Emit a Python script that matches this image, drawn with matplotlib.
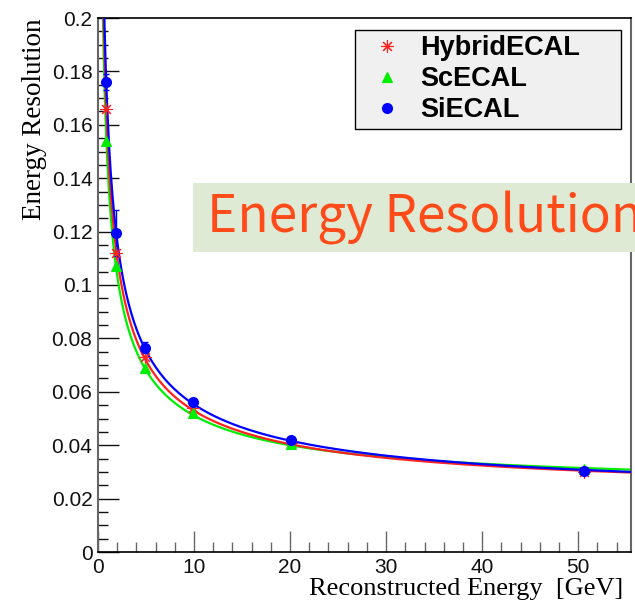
import numpy as np
import matplotlib
matplotlib.use("Agg")
import matplotlib.pyplot as plt
from matplotlib.patches import Rectangle
from matplotlib.ticker import MultipleLocator

energy = [0.83, 1.9, 4.9, 9.9, 20.1, 50.6]
hybrid_res = [0.166, 0.112, 0.073, 0.054, 0.041, 0.030]
sc_res = [0.154, 0.107, 0.069, 0.052, 0.0405, 0.031]
si_res = [0.176, 0.1195, 0.0765, 0.056, 0.042, 0.0305]
si_err = [0.003, 0.0085, 0.002, 0.001, 0.0005, 0.0005]

labels = ["HybridECAL", "ScECAL", "SiECAL"]

plt.rcParams["font.family"] = ["Liberation Sans", "DejaVu Sans"]

fig = plt.figure(figsize=(6.35, 6.01), dpi=100)
ax = fig.add_axes([98 / 635, (601 - 552) / 601, (631 - 98) / 635, (552 - 18) / 601])


def fit_curve(e, r):
    # sigma/E = sqrt(a^2/E + b^2), fitted in r^2 vs 1/E
    e = np.asarray(e)
    r = np.asarray(r)
    coef = np.polyfit(1.0 / e, r ** 2, 1, w=1.0 / r ** 2)
    xs = np.linspace(0.5, 56, 600)
    ys = np.sqrt(np.clip(coef[0] / xs + coef[1], 0, None))
    return xs, ys


series = [
    (hybrid_res, "#ff2020", (8, 2, 0), 9, None, labels[0]),
    (sc_res, "#00ee00", "^", 7, None, labels[1]),
    (si_res, "blue", "o", 8, si_err, labels[2]),
]

# fit curves: green under red under blue
for i, (res, col, mk, ms, err, lab) in enumerate([series[1], series[0], series[2]]):
    xs, ys = fit_curve(energy, res)
    ax.plot(xs, ys, color=col, lw=1.6, zorder=2 + i)

handles = []
for i, (res, col, mk, ms, err, lab) in enumerate(series):
    ax.errorbar(energy, res, yerr=err, fmt="none", ecolor=col, elinewidth=1,
                capsize=2, zorder=6)
    p, = ax.plot(energy, res, ls="none", marker=mk, color=col, ms=ms,
                 mew=0.8 if mk != "o" else 0, zorder=7 + i, label=lab)
    handles.append(p)

ax.set_xlim(0, 55.5)
ax.set_ylim(0, 0.2)
ax.xaxis.set_major_locator(MultipleLocator(10))
ax.xaxis.set_minor_locator(MultipleLocator(2))
ax.yaxis.set_major_locator(MultipleLocator(0.02))
ax.yaxis.set_minor_locator(MultipleLocator(0.005))
ax.yaxis.set_major_formatter(plt.FuncFormatter(lambda v, p: ("%g" % round(v, 3))))
ax.tick_params(which="both", direction="in", top=False, right=False,
               labelsize=15, colors="#111111")
ax.tick_params(which="major", length=15, width=1, pad=4)
ax.tick_params(which="minor", length=7, width=1)
ax.tick_params(axis="x", which="both", colors="#666666", labelcolor="#111111")
ax.tick_params(axis="y", which="both", colors="#111111")
for s in ["left", "right"]:
    ax.spines[s].set_color("#666666")
    ax.spines[s].set_linewidth(1.5)
for s in ["top", "bottom"]:
    ax.spines[s].set_color("black")
    ax.spines[s].set_linewidth(1.2)

ax.set_ylabel("Energy Resolution", family="Liberation Serif", fontsize=19.5)
ax.yaxis.set_label_coords(-0.095, 1.0)
ax.yaxis.label.set_ha("right")
ax.set_xlabel("Reconstructed Energy  [GeV]", family="Liberation Serif", fontsize=19)
ax.xaxis.set_label_coords(0.985, -(595 - 552) / 534)
ax.xaxis.label.set_ha("right")
ax.xaxis.label.set_va("baseline")

leg = ax.legend(handles=handles, loc="upper left", mode="expand",
                bbox_to_anchor=(0.482, 0.0, 0.499, 0.9775),
                prop={"weight": "bold", "size": 19.5}, frameon=True, fancybox=False,
                facecolor="#f0f0f0", edgecolor="black", framealpha=1,
                borderpad=0.2, labelspacing=0.18, handletextpad=0.2,
                handlelength=2.0, borderaxespad=0)
leg.get_frame().set_linewidth(1)

fig.patches.append(Rectangle((193 / 635, (601 - 252) / 601), 1.0, 69 / 601,
                             transform=fig.transFigure, facecolor="#dfead5",
                             edgecolor="none", zorder=20))
fig.text(207 / 635, (601 - 218) / 601, "Energy Resolution", color="#ff4b1a",
         fontsize=37, family=["Noto Sans CJK JP", "DejaVu Sans"], va="center",
         ha="left", zorder=21)

fig.savefig("out.png", dpi=100)
